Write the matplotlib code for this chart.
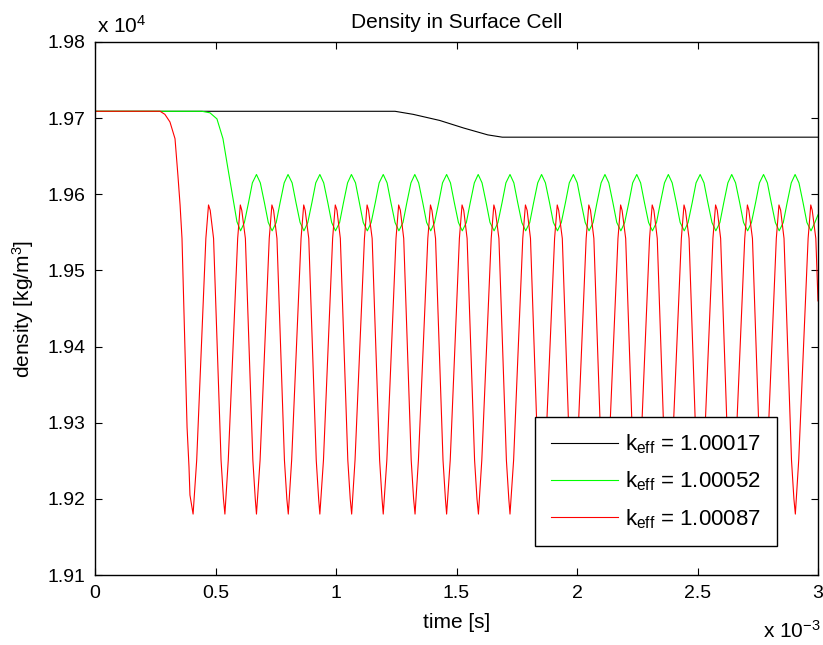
import matplotlib
matplotlib.use('Agg')
import matplotlib.pyplot as plt

plt.rcParams['font.family'] = ['Liberation Sans', 'DejaVu Sans']
plt.rcParams['mathtext.fontset'] = 'custom'
plt.rcParams['mathtext.rm'] = 'Liberation Sans'
plt.rcParams['mathtext.it'] = 'Liberation Sans'

# time in ms, density in kg/m^3
black_t = [0, 1.245, 1.32, 1.43, 1.53, 1.63, 1.69, 3.0]
black_rho = [19709, 19709, 19705, 19697, 19687, 19678, 19675, 19675]

green_t = [0, 0.444, 0.477, 0.506, 0.531, 0.552, 0.573, 0.589,
           0.604, 0.620, 0.637, 0.653, 0.670, 0.686, 0.703, 0.719,
           0.735, 0.752, 0.768, 0.785, 0.801, 0.818, 0.834, 0.851,
           0.867, 0.883, 0.900, 0.916, 0.933, 0.949, 0.966, 0.982,
           0.998, 1.015, 1.031, 1.048, 1.064, 1.081, 1.097, 1.113,
           1.130, 1.146, 1.163, 1.179, 1.196, 1.212, 1.228, 1.245,
           1.261, 1.278, 1.294, 1.311, 1.327, 1.343, 1.360, 1.376,
           1.393, 1.409, 1.426, 1.442, 1.459, 1.475, 1.491, 1.508,
           1.524, 1.541, 1.557, 1.574, 1.590, 1.606, 1.623, 1.639,
           1.656, 1.672, 1.689, 1.705, 1.722, 1.738, 1.754, 1.771,
           1.787, 1.804, 1.820, 1.837, 1.853, 1.869, 1.886, 1.902,
           1.919, 1.935, 1.952, 1.968, 1.985, 2.001, 2.017, 2.034,
           2.050, 2.067, 2.083, 2.100, 2.116, 2.132, 2.149, 2.165,
           2.182, 2.198, 2.215, 2.231, 2.248, 2.264, 2.280, 2.297,
           2.313, 2.330, 2.346, 2.363, 2.379, 2.395, 2.412, 2.428,
           2.445, 2.461, 2.478, 2.494, 2.511, 2.527, 2.543, 2.560,
           2.576, 2.593, 2.609, 2.626, 2.642, 2.658, 2.675, 2.691,
           2.708, 2.724, 2.741, 2.757, 2.774, 2.790, 2.806, 2.823,
           2.839, 2.856, 2.872, 2.889, 2.905, 2.921, 2.938, 2.954,
           2.971, 2.987, 3.000]
green_rho = [19709, 19709, 19707, 19699, 19673, 19633, 19594, 19564,
             19552, 19563, 19589, 19615, 19626, 19615, 19589, 19563,
             19552, 19563, 19589, 19615, 19626, 19615, 19589, 19563,
             19552, 19563, 19589, 19615, 19626, 19615, 19589, 19563,
             19552, 19563, 19589, 19615, 19626, 19615, 19589, 19563,
             19552, 19563, 19589, 19615, 19626, 19615, 19589, 19563,
             19552, 19563, 19589, 19615, 19626, 19615, 19589, 19563,
             19552, 19563, 19589, 19615, 19626, 19615, 19589, 19563,
             19552, 19563, 19589, 19615, 19626, 19615, 19589, 19563,
             19552, 19563, 19589, 19615, 19626, 19615, 19589, 19563,
             19552, 19563, 19589, 19615, 19626, 19615, 19589, 19563,
             19552, 19563, 19589, 19615, 19626, 19615, 19589, 19563,
             19552, 19563, 19589, 19615, 19626, 19615, 19589, 19563,
             19552, 19563, 19589, 19615, 19626, 19615, 19589, 19563,
             19552, 19563, 19589, 19615, 19626, 19615, 19589, 19563,
             19552, 19563, 19589, 19615, 19626, 19615, 19589, 19563,
             19552, 19563, 19589, 19615, 19626, 19615, 19589, 19563,
             19552, 19563, 19589, 19615, 19626, 19615, 19589, 19563,
             19552, 19563, 19589, 19615, 19626, 19615, 19589, 19563,
             19552, 19563, 19573]

red_t = [0, 0.270, 0.290, 0.311, 0.332, 0.344, 0.353, 0.361, 0.382, 0.390, 0.394,
         0.407, 0.422, 0.460, 0.471, 0.478, 0.492, 0.523, 0.533,
         0.539, 0.553, 0.592, 0.603, 0.609, 0.624, 0.655, 0.665,
         0.670, 0.685, 0.723, 0.734, 0.741, 0.755, 0.786, 0.796,
         0.802, 0.816, 0.855, 0.866, 0.872, 0.887, 0.918, 0.928,
         0.933, 0.948, 0.986, 0.997, 1.004, 1.018, 1.049, 1.059,
         1.065, 1.079, 1.118, 1.129, 1.135, 1.150, 1.181, 1.191,
         1.196, 1.211, 1.249, 1.260, 1.267, 1.281, 1.312, 1.322,
         1.328, 1.342, 1.381, 1.392, 1.398, 1.413, 1.444, 1.454,
         1.459, 1.474, 1.512, 1.523, 1.530, 1.544, 1.575, 1.585,
         1.591, 1.605, 1.644, 1.655, 1.661, 1.676, 1.707, 1.717,
         1.722, 1.737, 1.775, 1.786, 1.793, 1.807, 1.838, 1.848,
         1.854, 1.868, 1.907, 1.918, 1.924, 1.939, 1.970, 1.980,
         1.985, 2.000, 2.038, 2.049, 2.056, 2.070, 2.101, 2.111,
         2.117, 2.131, 2.170, 2.181, 2.187, 2.202, 2.233, 2.243,
         2.248, 2.263, 2.301, 2.312, 2.319, 2.333, 2.364, 2.374,
         2.380, 2.394, 2.433, 2.444, 2.450, 2.465, 2.496, 2.506,
         2.511, 2.526, 2.564, 2.575, 2.582, 2.596, 2.627, 2.637,
         2.643, 2.657, 2.696, 2.707, 2.713, 2.728, 2.759, 2.769,
         2.774, 2.789, 2.827, 2.838, 2.845, 2.859, 2.890, 2.900,
         2.906, 2.920, 2.959, 2.970, 2.976, 2.991, 3.000]
red_rho = [19709, 19709, 19705, 19695, 19673, 19625, 19586, 19542, 19294, 19242, 19205,
           19180, 19251, 19542, 19586, 19579, 19542, 19251, 19200,
           19180, 19251, 19542, 19586, 19579, 19542, 19251, 19200,
           19180, 19251, 19542, 19586, 19579, 19542, 19251, 19200,
           19180, 19251, 19542, 19586, 19579, 19542, 19251, 19200,
           19180, 19251, 19542, 19586, 19579, 19542, 19251, 19200,
           19180, 19251, 19542, 19586, 19579, 19542, 19251, 19200,
           19180, 19251, 19542, 19586, 19579, 19542, 19251, 19200,
           19180, 19251, 19542, 19586, 19579, 19542, 19251, 19200,
           19180, 19251, 19542, 19586, 19579, 19542, 19251, 19200,
           19180, 19251, 19542, 19586, 19579, 19542, 19251, 19200,
           19180, 19251, 19542, 19586, 19579, 19542, 19251, 19200,
           19180, 19251, 19542, 19586, 19579, 19542, 19251, 19200,
           19180, 19251, 19542, 19586, 19579, 19542, 19251, 19200,
           19180, 19251, 19542, 19586, 19579, 19542, 19251, 19200,
           19180, 19251, 19542, 19586, 19579, 19542, 19251, 19200,
           19180, 19251, 19542, 19586, 19579, 19542, 19251, 19200,
           19180, 19251, 19542, 19586, 19579, 19542, 19251, 19200,
           19180, 19251, 19542, 19586, 19579, 19542, 19251, 19200,
           19180, 19251, 19542, 19586, 19579, 19542, 19251, 19200,
           19180, 19251, 19542, 19586, 19579, 19542, 19460]

labels = ['1.00017', '1.00052', '1.00087']
x_ticks = [0, 0.5, 1, 1.5, 2, 2.5, 3]
x_tick_labels = ['0', '0.5', '1', '1.5', '2', '2.5', '3']
y_ticks = [1.91, 1.92, 1.93, 1.94, 1.95, 1.96, 1.97, 1.98]

fig = plt.figure(figsize=(8.23, 6.45), dpi=100)
ax = fig.add_axes([95 / 823, 70 / 645, 723 / 823, 533 / 645])

for t, rho, col, lab in [(black_t, black_rho, 'k', labels[0]),
                         (green_t, green_rho, (0, 1, 0), labels[1]),
                         (red_t, red_rho, (1, 0, 0), labels[2])]:
    ax.plot(t, [r / 1e4 for r in rho], color=col, lw=0.8,
            label=r'k$_{\mathrm{eff}}$ = ' + lab)

ax.set_xlim(0, 3)
ax.set_ylim(1.91, 1.98)
ax.set_xticks(x_ticks)
ax.set_xticklabels(x_tick_labels)
ax.set_yticks(y_ticks)
ax.set_yticklabels(['%.2f' % v for v in y_ticks])
ax.tick_params(direction='in', top=True, right=True, length=5, width=0.8,
               labelsize=14, pad=7)
for s in ax.spines.values():
    s.set_linewidth(1.0)

ax.set_title('Density in Surface Cell', fontsize=15, pad=10)
ax.set_xlabel('time [s]', fontsize=15, labelpad=8)
ax.set_ylabel('density [kg/m$^3$]', fontsize=15, labelpad=8)

fig.text(97 / 823, 1 - 33 / 645, r'x 10$^{4}$', fontsize=15, va='baseline')
fig.text(763 / 823, 1 - 638 / 645, r'x 10$^{-3}$', fontsize=15, va='baseline')

leg = ax.legend(loc='lower right', bbox_to_anchor=(0.943, 0.054), fontsize=16,
                frameon=True, fancybox=False, framealpha=1, edgecolor='k',
                handlelength=3.0, handletextpad=0.35, labelspacing=0.62,
                borderpad=0.7, borderaxespad=0)
leg.get_frame().set_linewidth(1.0)

fig.savefig('out.png', dpi=100)
